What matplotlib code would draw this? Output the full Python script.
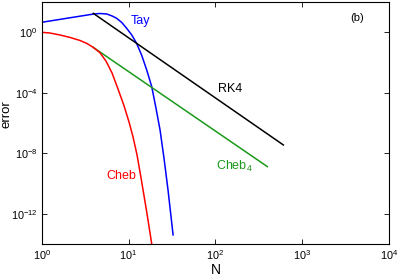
import numpy as np
import matplotlib
matplotlib.use("Agg")
import matplotlib.pyplot as plt

plt.rcParams['font.family'] = ['Liberation Sans', 'DejaVu Sans']
plt.rcParams['mathtext.fontset'] = 'custom'
plt.rcParams['mathtext.rm'] = 'Liberation Sans'
plt.rcParams['mathtext.it'] = 'Liberation Sans:italic'
plt.rcParams['mathtext.bf'] = 'Liberation Sans:bold'

# Data: N values and log10(error)
tay_N = [1, 4.0, 4.69, 5.61, 6.45, 7.31, 8.35, 9.53, 10.9, 12.4, 14.2, 16.2,
         18.5, 20.7, 23.07, 25.6, 28.5, 32.6]
tay_logE = [0.66, 1.21, 1.24, 1.21, 1.08, 0.92, 0.65, 0.26, -0.18, -0.73, -1.53, -2.49,
            -3.59, -5.0, -6.45, -8.30, -10.41, -13.38]

cheb_N = [1, 1.25, 1.63, 2.12, 2.76, 3.32, 3.93, 4.69, 5.50, 6.45, 7.57, 8.87,
          10.13, 11.27, 12.53, 13.94, 16.2, 18.5]
cheb_logE = [0.0, -0.05, -0.18, -0.34, -0.54, -0.74, -1.0, -1.35, -1.90, -2.68, -3.75, -4.85,
             -5.92, -6.91, -8.10, -9.62, -11.86, -13.97]

cheb4_N = [3.93, 397]
cheb4_logE = [-1.0, -8.87]

rk4_N = [3.93, 607]
rk4_logE = [1.25, -7.44]

xticks = [1, 10, 100, 1000, 10000]
yticks = [1e-12, 1e-8, 1e-4, 1e0]

fig = plt.figure(figsize=(3.99, 2.77), dpi=100)
ax = fig.add_axes([41.7/399, 1 - 244.3/277, (389 - 41.7)/399, (244.3 - 2)/277])

lw = 1.1
ax.plot(tay_N, 10**np.array(tay_logE), color=(0, 0, 1), lw=lw)
ax.plot(rk4_N, 10**np.array(rk4_logE), color='black', lw=lw)
ax.plot(cheb4_N, 10**np.array(cheb4_logE), color=(0.1, 0.6, 0.1), lw=lw)
ax.plot(cheb_N, 10**np.array(cheb_logE), color=(1, 0, 0), lw=lw)

ax.set_xscale('log')
ax.set_yscale('log')
ax.set_xlim(1, 1e4)
ax.set_ylim(1e-14, 1e2)
ax.set_xticks(xticks)
ax.set_yticks(yticks)
ax.minorticks_off()
ax.tick_params(which='both', direction='in', top=True, right=True, length=3.5,
               width=0.6, labelsize=7.8, pad=3)
for s in ax.spines.values():
    s.set_linewidth(0.8)

fs = 9
ax.text(13.9, 10**0.726, 'Tay', color=(0, 0, 1), fontsize=fs, ha='center', va='center')
ax.text(149, 10**-3.74, 'RK4', color='black', fontsize=fs, ha='center', va='center')
ax.text(102, 10**-8.83, 'Cheb$_4$', color=(0.1, 0.6, 0.1), fontsize=fs, ha='left', va='center')
ax.text(8.35, 10**-9.47, 'Cheb', color=(1, 0, 0), fontsize=fs, ha='center', va='center')
ax.text(4325, 10**0.924, '(b)', color='black', fontsize=8, ha='center', va='center')

fig.text(6/399, 1 - 114/277, 'error', rotation=90, fontsize=9.5, ha='center', va='center')
fig.text(215.7/399, 1 - 270.3/277, 'N', fontsize=10, ha='center', va='center')

fig.savefig('out.png', dpi=100)
